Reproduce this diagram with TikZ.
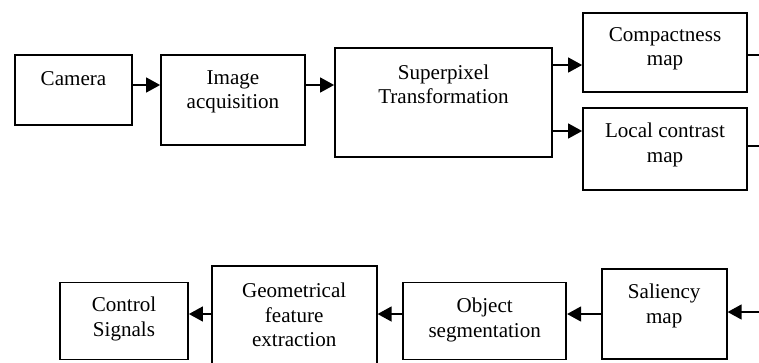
\documentclass[tikz,border=0pt]{standalone}
\usepackage{fontspec}
\setmainfont{Liberation Serif}
\usepackage{tikz}
\usetikzlibrary{arrows.meta}
\usetikzlibrary{positioning}

\begin{document}
\begin{tikzpicture}[x=0.02cm,y=-0.02cm,
  box/.style={draw,line width=1pt,inner sep=0pt},
  txt/.style={align=center,inner sep=0pt,font=\fontsize{12}{13.8}\selectfont},
  arr/.style={line width=1pt,-{Triangle[length=8pt,width=8.5pt]}},
  wire/.style={line width=1pt}]
  \useasboundingbox (0,0) rectangle (759,362);
  \node[box,minimum width=2.34cm,minimum height=1.40cm] (cam) at (73.5,90){};
  \node[box,minimum width=2.88cm,minimum height=1.80cm] (iacq) at (233,100){};
  \node[box,minimum width=4.34cm,minimum height=2.18cm] (sp) at (443.5,102.5){};
  \node[box,minimum width=3.28cm,minimum height=1.58cm] (cmp) at (665,52.5){};
  \node[box,minimum width=3.28cm,minimum height=1.64cm] (lcm) at (665,149){};
  \node[box,minimum width=2.56cm,minimum height=1.54cm] (ctl) at (124,321){};
  \node[box,minimum width=3.30cm,minimum height=2.00cm] (gfe) at (294.2,316){};
  \node[box,minimum width=3.26cm,minimum height=1.54cm] (obj) at (484.7,321){};
  \node[box,minimum width=2.50cm,minimum height=1.80cm] (sal) at (664.2,314){};
  \node[txt] (camt) at (73.5,79){Camera};
  \node[txt] (iacqt) at (233,92){Image\\acquisition};
  \node[txt] (spt) at (443.5,84){Superpixel\\Transformation};
  \node[txt] (cmpt) at (665,49){Compactness\\map};
  \node[txt] (lcmt) at (665,145){Local contrast\\map};
  \node[txt] (ctlt) at (124,319){Control\\Signals};
  \node[txt] (gfet) at (294.2,315){Geometrical\\feature\\extraction};
  \node[txt] (objt) at (484.7,320){Object\\segmentation};
  \node[txt] (salt) at (664.2,306){Saliency\\map};
  \coordinate (cmpout) at (759,55);
  \coordinate (lcmout) at (759,146);
  \coordinate (salin) at (759,312);
  \draw[arr]([yshift=0.1cm]cam.east)--([yshift=0.1cm]cam.east -| iacq.west);
  \draw[arr]([yshift=0.3cm]iacq.east)--([yshift=0.3cm]iacq.east -| sp.west);
  \draw[arr]([yshift=0.75cm]sp.east)--([yshift=0.75cm]sp.east -| cmp.west);
  \draw[arr]([yshift=-0.57cm]sp.east)--([yshift=-0.57cm]sp.east -| lcm.west);
  \draw[wire]([yshift=-0.05cm]cmp.east)--(cmpout);
  \draw[wire]([yshift=0.06cm]lcm.east)--(lcmout);
  \draw[arr](salin)--(salin -| sal.east);
  \draw[arr](sal.west)--(sal.west -| obj.east);
  \draw[arr]([yshift=0.14cm]obj.west)--([yshift=0.14cm]obj.west -| gfe.east);
  \draw[arr]([yshift=0.04cm]gfe.west)--([yshift=0.04cm]gfe.west -| ctl.east);
\end{tikzpicture}
\end{document}
